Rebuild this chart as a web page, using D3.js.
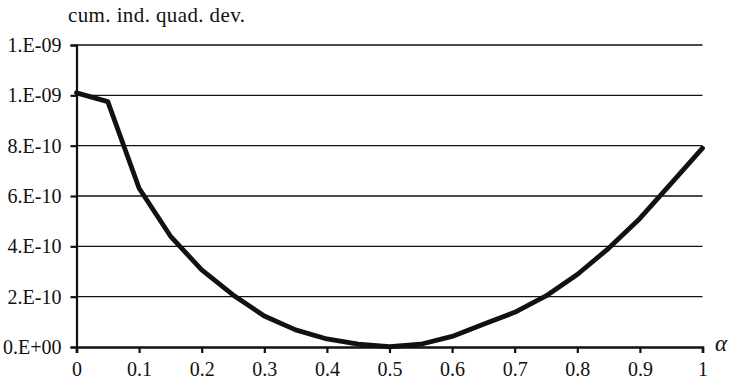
<!DOCTYPE html>
<html>
<head>
<meta charset="utf-8">
<script src="https://cdn.jsdelivr.net/npm/d3@7"></script>
<style>
  html, body { margin: 0; padding: 0; background: #fff; }
  svg { display: block; }
  text { font-family: "Liberation Serif", "DejaVu Serif", serif; fill: #111; }
</style>
</head>
<body>
<svg id="chart" width="731" height="382"></svg>
<script>
// Cumulative individual quadratic deviation as a function of alpha
const alphaValues = [0, 0.05, 0.1, 0.15, 0.2, 0.25, 0.3, 0.35, 0.4, 0.45, 0.5,
                     0.55, 0.6, 0.65, 0.7, 0.75, 0.8, 0.85, 0.9, 0.95, 1];
const deviation = [1.010e-9, 0.975e-9, 0.631e-9, 0.441e-9, 0.306e-9, 0.207e-9,
                   0.123e-9, 0.068e-9, 0.032e-9, 0.011e-9, 0.001e-9, 0.011e-9,
                   0.042e-9, 0.090e-9, 0.138e-9, 0.203e-9, 0.288e-9, 0.392e-9,
                   0.511e-9, 0.650e-9, 0.790e-9];
const xTicks = [0, 0.1, 0.2, 0.3, 0.4, 0.5, 0.6, 0.7, 0.8, 0.9, 1];
const xTickLabels = ["0", "0.1", "0.2", "0.3", "0.4", "0.5", "0.6", "0.7", "0.8", "0.9", "1"];
const yTicks = [0, 2e-10, 4e-10, 6e-10, 8e-10, 1e-9, 1.2e-9];
const yTickLabels = ["0.E+00", "2.E-10", "4.E-10", "6.E-10", "8.E-10", "1.E-09", "1.E-09"];

const svg = d3.select("#chart");
const plotLeft = 76.5, plotRight = 702.5, plotTop = 45, plotBottom = 347;

const x = d3.scaleLinear().domain([0, 1]).range([plotLeft, plotRight]);
const y = d3.scaleLinear().domain([0, 1.2e-9]).range([plotBottom, plotTop]);

// horizontal gridlines
svg.append("g")
  .selectAll("line")
  .data(yTicks.slice(1))
  .join("line")
  .attr("x1", plotLeft).attr("x2", plotRight)
  .attr("y1", d => y(d)).attr("y2", d => y(d))
  .attr("stroke", "#111").attr("stroke-width", 1.3);

// y axis
const yAxis = d3.axisLeft(y)
  .tickValues(yTicks)
  .tickSize(6)
  .tickPadding(9)
  .tickFormat((d, i) => yTickLabels[i]);
const gy = svg.append("g").attr("transform", `translate(${plotLeft},0)`).call(yAxis);
gy.select(".domain").attr("stroke", "#111").attr("stroke-width", 2.2);
gy.selectAll(".tick line").attr("stroke", "#111").attr("stroke-width", 2.2);
gy.selectAll(".tick text").attr("font-size", 20).attr("fill", "#111");

// x axis
const xAxis = d3.axisBottom(x)
  .tickValues(xTicks)
  .tickSize(6)
  .tickPadding(8.5)
  .tickFormat((d, i) => xTickLabels[i]);
const gx = svg.append("g").attr("transform", `translate(0,${plotBottom})`).call(xAxis);
gx.select(".domain").attr("stroke", "#111").attr("stroke-width", 2.6);
gx.selectAll(".tick line").attr("stroke", "#111").attr("stroke-width", 2.2);
gx.selectAll(".tick text").attr("font-size", 20).attr("fill", "#111");

// curve
const line = d3.line()
  .x((d, i) => x(alphaValues[i]))
  .y(d => y(d));
svg.append("path")
  .datum(deviation)
  .attr("d", line)
  .attr("fill", "none")
  .attr("stroke", "#111")
  .attr("stroke-width", 4.8)
  .attr("stroke-linejoin", "round")
  .attr("stroke-linecap", "round");

// axis titles
svg.append("text")
  .attr("x", 68).attr("y", 22)
  .attr("font-size", 21)
  .attr("textLength", 177)
  .attr("lengthAdjust", "spacing")
  .text("cum. ind. quad. dev.");
svg.append("text")
  .attr("x", 715).attr("y", 351)
  .attr("font-size", 23)
  .attr("font-style", "italic")
  .text("α");
</script>
</body>
</html>
